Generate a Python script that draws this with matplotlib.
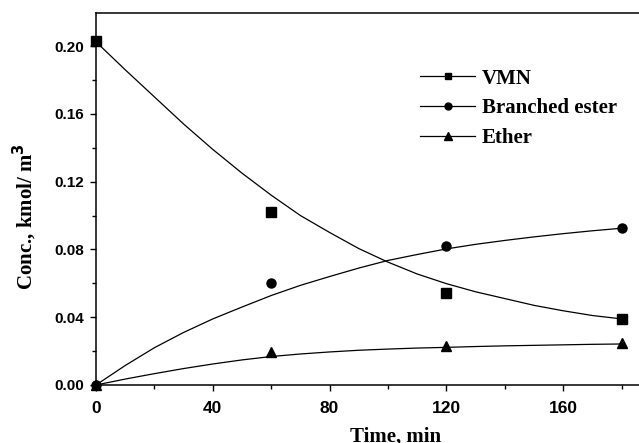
import matplotlib
matplotlib.use("Agg")
import matplotlib.pyplot as plt
from matplotlib.lines import Line2D

# measured data points
t_data = [0, 60, 120, 180]
vmn_data = [0.203, 0.102, 0.054, 0.039]
ester_data = [0.0, 0.060, 0.082, 0.0928]
ether_data = [0.0, 0.0197, 0.023, 0.025]

# model curves
t_fit = [0, 10, 20, 30, 40, 50, 60, 70, 80, 90, 100, 110, 120, 130, 140, 150, 160, 170, 180]
vmn_fit = [0.2025, 0.186, 0.170, 0.154, 0.139, 0.125, 0.112, 0.100, 0.090, 0.0805,
           0.0725, 0.0655, 0.0598, 0.055, 0.051, 0.047, 0.0438, 0.041, 0.039]
ester_fit = [0.0, 0.0115, 0.022, 0.031, 0.039, 0.046, 0.0528, 0.0588, 0.064, 0.069,
             0.0735, 0.077, 0.0803, 0.083, 0.0853, 0.0874, 0.0893, 0.091, 0.0925]
ether_fit = [0.0, 0.0035, 0.0067, 0.0097, 0.0124, 0.0148, 0.0168, 0.0183, 0.0195, 0.0205,
             0.0212, 0.0218, 0.0222, 0.0227, 0.0231, 0.0234, 0.0237, 0.024, 0.0242]

series_labels = ["VMN", "Branched ester", "Ether"]
x_ticks = [0, 40, 80, 120, 160]
y_ticks = [0.00, 0.04, 0.08, 0.12, 0.16, 0.20]

serif = "Liberation Serif"
sans = "Liberation Sans"

fig = plt.figure(figsize=(6.39, 4.43), dpi=100)
ax = fig.add_axes([96/639, 1-385/443, 1-96/639, (385-13)/443])

lw = 0.9
ax.plot(t_fit, vmn_fit, color="black", lw=lw)
ax.plot(t_fit, ester_fit, color="black", lw=lw)
ax.plot(t_fit, ether_fit, color="black", lw=lw)
ax.plot(t_data, vmn_data, ls="none", marker="s", ms=6.5, color="black", clip_on=False, zorder=5)
ax.plot(t_data, ester_data, ls="none", marker="o", ms=6.5, color="black", clip_on=False, zorder=5)
ax.plot(t_data, ether_data, ls="none", marker="^", ms=7.5, color="black", clip_on=False, zorder=5)

ax.set_xlim(0, (639-96)/2.92)
ax.set_ylim(0, 0.2195)
ax.set_xticks(x_ticks)
ax.set_xticks([20, 60, 100, 140, 180], minor=True)
ax.set_yticks(y_ticks)
ax.set_yticks([0.02, 0.06, 0.10, 0.14, 0.18], minor=True)
ax.set_yticklabels([f"{v:.2f}" for v in y_ticks])
ax.set_xticklabels([str(v) for v in x_ticks])

for s in ["left", "bottom", "top"]:
    ax.spines[s].set_linewidth(1.1)
ax.spines["right"].set_visible(False)

ax.tick_params(axis="both", which="major", direction="out", length=4.5, width=1.0)
ax.tick_params(axis="both", which="minor", direction="out", length=3.0, width=1.0)
ax.tick_params(axis="y", labelsize=11, pad=4)
ax.tick_params(axis="x", labelsize=12.5, pad=7)
for lab in ax.get_xticklabels() + ax.get_yticklabels():
    lab.set_fontfamily(sans)
    lab.set_fontweight("bold")

ax.set_xlabel("Time, min", fontfamily=serif, fontweight="bold", fontsize=15)
ax.set_ylabel("Conc., kmol/ m$^\\mathbf{3}$", fontfamily=serif, fontweight="bold", fontsize=15)
ax.xaxis.set_label_coords((396-96)/543, (385-437)/372)
ax.yaxis.set_label_coords((25-96)/543, (385-217)/372)
ax.xaxis.label.set_va("center")
ax.yaxis.label.set_va("center")

handles = [
    Line2D([], [], color="black", lw=lw, marker="s", ms=5),
    Line2D([], [], color="black", lw=lw, marker="o", ms=5),
    Line2D([], [], color="black", lw=lw, marker="^", ms=5.5),
]
leg = fig.legend(handles, series_labels, loc="upper left", bbox_to_anchor=(420/639, 1-68.5/443),
                 frameon=False, borderpad=0, borderaxespad=0, handlelength=2.64,
                 handletextpad=0.33, labelspacing=0.47,
                 prop={"family": serif, "weight": "bold", "size": 15})

fig.savefig("out.png", dpi=100)
